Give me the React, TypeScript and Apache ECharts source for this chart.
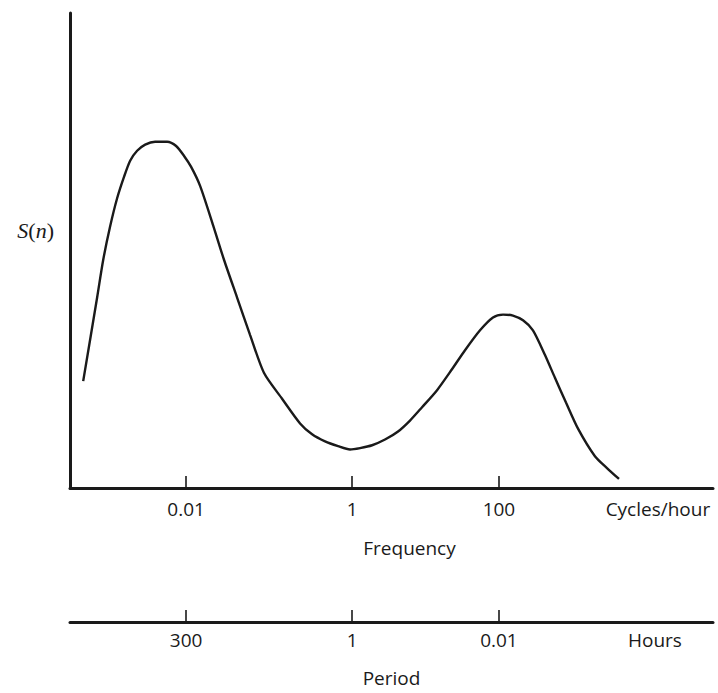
import React, { useEffect, useRef } from "react";
import * as echarts from "echarts";

// x position in decades of frequency (log10 of cycles/hour, slightly stretched drawing)
const xPos = [
  -3.241, -3.073, -3.0, -2.916, -2.832, -2.747, -2.675, -2.591, -2.494, -2.374,
  -2.229, -2.121, -2.025, -1.94, -1.832, -1.675, -1.543, -1.386, -1.229, -1.061,
  -0.844, -0.627, -0.482, -0.326, -0.169, -0.025, 0.096, 0.241, 0.397, 0.554,
  0.698, 0.843, 1.024, 1.204, 1.361, 1.542, 1.698, 1.819, 1.939, 2.06,
  2.18, 2.325, 2.445, 2.578, 2.723, 2.927, 3.072, 3.217,
];
// spectral density S(n), arbitrary units
const spectrum = [
  22.5, 40.1, 48.0, 55.1, 61.0, 65.6, 68.9, 71.0, 72.3, 72.9,
  72.9, 72.0, 69.9, 67.6, 63.6, 55.3, 48.0, 40.1, 32.2, 24.2,
  18.8, 13.6, 11.3, 9.8, 8.8, 8.1, 8.4, 9.0, 10.2, 11.9,
  14.2, 17.0, 20.6, 25.0, 29.0, 33.2, 35.9, 36.5, 36.3, 35.3,
  33.2, 28.0, 23.2, 18.0, 12.5, 6.7, 4.2, 1.9,
];

const tickPositions = [-2, 0, 1.77];
const freqTickLabels = ["0.01", "1", "100"];
const periodTickLabels = ["300", "1", "0.01"];
const freqUnitLabel = "Cycles/hour";
const freqUnitPos = 3.686;
const periodUnitLabel = "Hours";
const periodUnitPos = 3.65;

const X_MIN = -3.4;
const X_MAX = 4.35;

function makeFormatter(labels: string[], unitLabel: string, unitPos: number) {
  return (v: number) => {
    for (let i = 0; i < tickPositions.length; i++) {
      if (Math.abs(v - tickPositions[i]) < 1e-6) return labels[i];
    }
    if (Math.abs(v - unitPos) < 1e-6) return unitLabel;
    return "";
  };
}

const SANS = "'Open Sans', 'Noto Sans', sans-serif";
const INK = "#1a1a1a";
const FS = 19;

export default function App() {
  const ref = useRef<HTMLDivElement>(null);
  useEffect(() => {
    if (!ref.current) return;
    const chart = echarts.init(ref.current, undefined, { renderer: "svg" });
    const axisCommon = {
      type: "value" as const,
      min: X_MIN,
      max: X_MAX,
      splitLine: { show: false },
      axisLine: { show: true, onZero: false, lineStyle: { color: INK, width: 3 } },
      axisTick: {
        show: true,
        inside: true,
        length: 12,
        customValues: tickPositions,
        lineStyle: { color: INK, width: 1.6 },
      },
    };
    const labelText = { color: INK, fontFamily: SANS, fontSize: FS, lineHeight: 20 };
    chart.setOption({
      animation: false,
      backgroundColor: "#ffffff",
      grid: { left: 70, right: 5, top: 13, height: 480 },
      xAxis: [
        {
          ...axisCommon,
          position: "bottom",
          axisLabel: {
            show: true,
            customValues: [...tickPositions, freqUnitPos],
            formatter: makeFormatter(freqTickLabels, freqUnitLabel, freqUnitPos),
            margin: 11,
            ...labelText,
          },
          name: "Frequency",
          nameLocation: "middle",
          nameGap: 50,
          nameTextStyle: { ...labelText, padding: [0, 0, 0, 36] },
        },
        {
          ...axisCommon,
          position: "bottom",
          offset: 134,
          axisLabel: {
            show: true,
            customValues: [...tickPositions, periodUnitPos],
            formatter: makeFormatter(periodTickLabels, periodUnitLabel, periodUnitPos),
            margin: 8,
            ...labelText,
          },
          name: "Period",
          nameLocation: "middle",
          nameGap: 46,
          nameTextStyle: { ...labelText },
        },
      ],
      yAxis: {
        type: "value",
        min: 0,
        max: 100,
        splitLine: { show: false },
        axisTick: { show: false },
        axisLabel: { show: false },
        axisLine: { show: true, onZero: false, lineStyle: { color: INK, width: 3 } },
        name: "{i|S}({i|n})",
        nameLocation: "middle",
        nameRotate: 0,
        nameGap: 16,
        nameTextStyle: {
          color: INK,
          fontFamily: "'Liberation Serif', serif",
          fontSize: 22,
          align: "right",
          padding: [0, 0, 40, 0],
          rich: {
            i: {
              fontStyle: "italic",
              fontFamily: "'Liberation Serif', serif",
              fontSize: 22,
              color: INK,
            },
          },
        },
      },
      series: [
        {
          type: "line",
          xAxisIndex: 0,
          data: xPos.map((x, i) => [x, spectrum[i]]),
          showSymbol: false,
          smooth: 0.25,
          lineStyle: { color: INK, width: 2.4 },
        },
      ],
    });
    return () => chart.dispose();
  }, []);
  return (
    <div
      ref={ref}
      style={{ position: "absolute", left: 0, top: 0, width: 718, height: 693 }}
    />
  );
}
